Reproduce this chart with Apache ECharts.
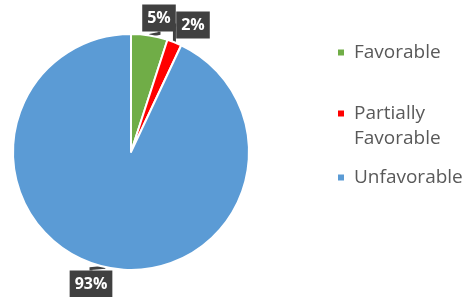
<!DOCTYPE html>
<html>
<head>
<meta charset="utf-8">
<script src="https://cdn.jsdelivr.net/npm/echarts@6/dist/echarts.min.js"></script>
<style>
  html, body { margin: 0; padding: 0; background: #fff; }
  #chart { width: 471px; height: 297px; }
</style>
</head>
<body>
<div id="chart"></div>
<script>
var categories = ['Favorable', 'Partially Favorable', 'Unfavorable'];
var values = [5, 2, 93];
var colors = ['#70AD47', '#FF0000', '#5B9BD5'];

var chart = echarts.init(document.getElementById('chart'));

var pieData = categories.map(function (name, i) {
  return { name: name, value: values[i], itemStyle: { color: colors[i] } };
});

// where each callout box sits (centre)
var labelSpots = [[159, 18], [193, 25], [91, 284]];

function legendFor(name, top) {
  return {
    orient: 'vertical',
    left: 336,
    top: top,
    padding: 0,
    data: [name],
    icon: 'rect',
    itemWidth: 8,
    itemHeight: 8,
    itemGap: 0,
    textStyle: {
      fontFamily: 'Open Sans',
      fontSize: 19,
      color: '#595959',
      lineHeight: 25,
      padding: [0, 0, 0, 4]
    },
    formatter: function (n) {
      return n === 'Partially Favorable' ? ' \nPartially\nFavorable' : n;
    }
  };
}

var option = {
  animation: false,
  legend: [
    legendFor(categories[0], 40),
    legendFor(categories[1], 76),
    legendFor(categories[2], 165)
  ],
  series: [{
    type: 'pie',
    center: [131, 152],
    radius: 118,
    startAngle: 90,
    clockwise: true,
    data: pieData,
    itemStyle: { borderColor: '#fff', borderWidth: 2 },
    label: {
      show: true,
      position: 'outside',
      formatter: '{c}%',
      color: '#fff',
      fontFamily: 'Open Sans',
      fontWeight: 'bold',
      fontSize: 16,
      lineHeight: 19,
      backgroundColor: '#404040',
      padding: [4, 5, 4, 5]
    },
    labelLine: {
      show: true,
      length: 8,
      length2: 2,
      lineStyle: { color: '#404040', width: 3 }
    },
    labelLayout: function (p) {
      var s = labelSpots[p.dataIndex];
      return { x: s[0], y: s[1], align: 'center', verticalAlign: 'middle' };
    }
  }]
};

chart.setOption(option);
</script>
</body>
</html>
